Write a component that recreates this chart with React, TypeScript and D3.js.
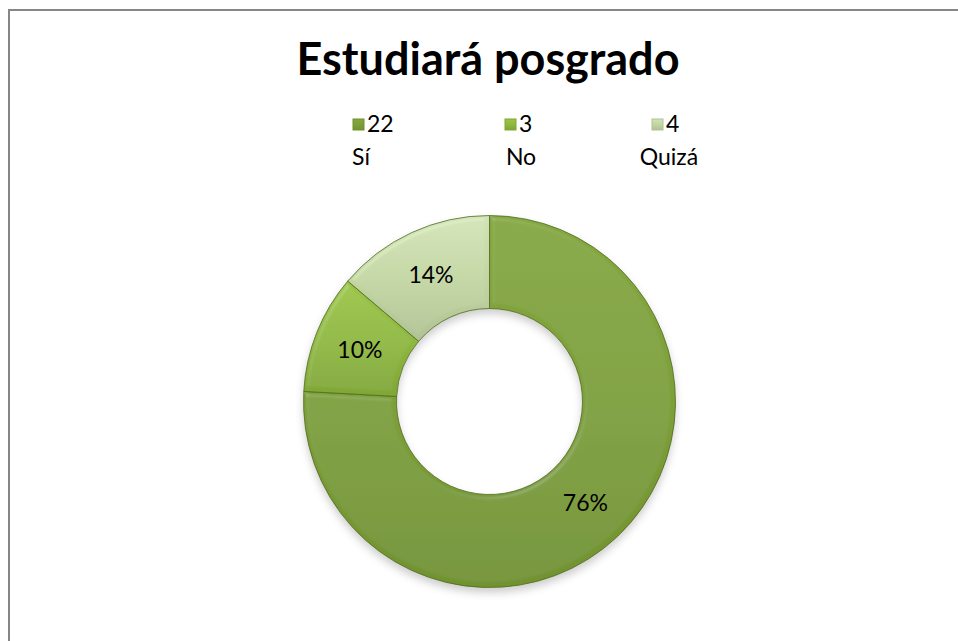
import React from "react";
import * as d3 from "d3";

const categories = ["Sí", "No", "Quizá"];
const counts = [22, 3, 4];
const percentLabels = ["76%", "10%", "14%"];
const title = "Estudiará posgrado";

const W = 958;
const H = 641;
const cx = 489.5;
const cy = 401.5;
const outerR = 186;
const innerR = 93;

const baseColors = ["#7d9f39", "#8fb83e", "#c2d5a2"];
const lightColors = ["#84a73e", "#9cc447", "#d2e3b8"];
const darkColors = ["#71922f", "#80a634", "#b0c294"];
const legendX = [353, 505, 652];
const legendNameOffset = [8, 16, 17];

export default function App() {
  const pie = d3
    .pie<number>()
    .sort(null)
    .value((d) => d);
  const arcs = pie(counts);
  const arcGen = d3
    .arc<d3.PieArcDatum<number>>()
    .innerRadius(innerR)
    .outerRadius(outerR);
  const labelArc = d3
    .arc<d3.PieArcDatum<number>>()
    .innerRadius((innerR + outerR) / 2)
    .outerRadius((innerR + outerR) / 2);

  return (
    <svg
      width={W}
      height={H}
      style={{ position: "absolute", left: 0, top: 0, background: "#fff" }}
      fontFamily="Lato, 'Open Sans', sans-serif"
    >
      <defs>
        {baseColors.map((c, i) => (
          <linearGradient key={i} id={`g${i}`} x1="0" y1="0" x2="0" y2="1">
            <stop offset="0%" stopColor={lightColors[i]} />
            <stop offset="50%" stopColor={c} />
            <stop offset="100%" stopColor={darkColors[i]} />
          </linearGradient>
        ))}
        <filter id="bevel" x="-10%" y="-10%" width="120%" height="120%">
          <feGaussianBlur in="SourceAlpha" stdDeviation="2.5" result="blur" />
          <feSpecularLighting
            in="blur"
            surfaceScale="3"
            specularConstant="0.35"
            specularExponent="25"
            lightingColor="#ffffff"
            result="spec"
          >
            <feDistantLight azimuth="235" elevation="50" />
          </feSpecularLighting>
          <feComposite in="spec" in2="SourceAlpha" operator="in" result="specIn" />
          <feComposite
            in="SourceGraphic"
            in2="specIn"
            operator="arithmetic"
            k1="0"
            k2="1"
            k3="0.3"
            k4="0"
          />
        </filter>
        <filter id="shadow" x="-20%" y="-20%" width="140%" height="140%">
          <feGaussianBlur stdDeviation="4" />
        </filter>
      </defs>

      <rect
        x={9}
        y={10}
        width={1200}
        height={1200}
        fill="#fff"
        stroke="#868686"
        strokeWidth={2}
      />

      <text
        x={488}
        y={75}
        textAnchor="middle"
        fontSize={45}
        fontWeight="bold"
        fill="#000"
      >
        {title}
      </text>

      {categories.map((cat, i) => (
        <g key={cat}>
          <rect
            x={legendX[i]}
            y={119}
            width={11}
            height={11}
            fill={`url(#g${i})`}
            stroke={darkColors[i]}
            strokeWidth={1}
          />
          <text x={legendX[i] + 14} y={132} fontSize={23} fill="#000">
            {counts[i]}
          </text>
          <text
            x={legendX[i] + legendNameOffset[i]}
            y={165}
            fontSize={23}
            textAnchor="middle"
            fill="#000"
          >
            {cat}
          </text>
        </g>
      ))}

      <g transform={`translate(${cx},${cy + 5})`} opacity={0.3}>
        <path
          d={
            d3.arc()({
              innerRadius: innerR,
              outerRadius: outerR,
              startAngle: 0,
              endAngle: Math.PI * 2,
            }) || ""
          }
          fill="#555"
          filter="url(#shadow)"
        />
      </g>

      <g transform={`translate(${cx},${cy})`}>
        {arcs.map((a, i) => (
          <path
            key={i}
            d={arcGen(a) || ""}
            fill={`url(#g${i})`}
            stroke="#4f6b1c"
            strokeWidth={0.8}
            filter="url(#bevel)"
          />
        ))}
        {arcs.map((a, i) => {
          const [lx, ly] = labelArc.centroid(a);
          return (
            <text
              key={`l${i}`}
              x={lx}
              y={ly}
              dy="0.35em"
              textAnchor="middle"
              fontSize={23}
              fill="#000"
            >
              {percentLabels[i]}
            </text>
          );
        })}
      </g>
    </svg>
  );
}
